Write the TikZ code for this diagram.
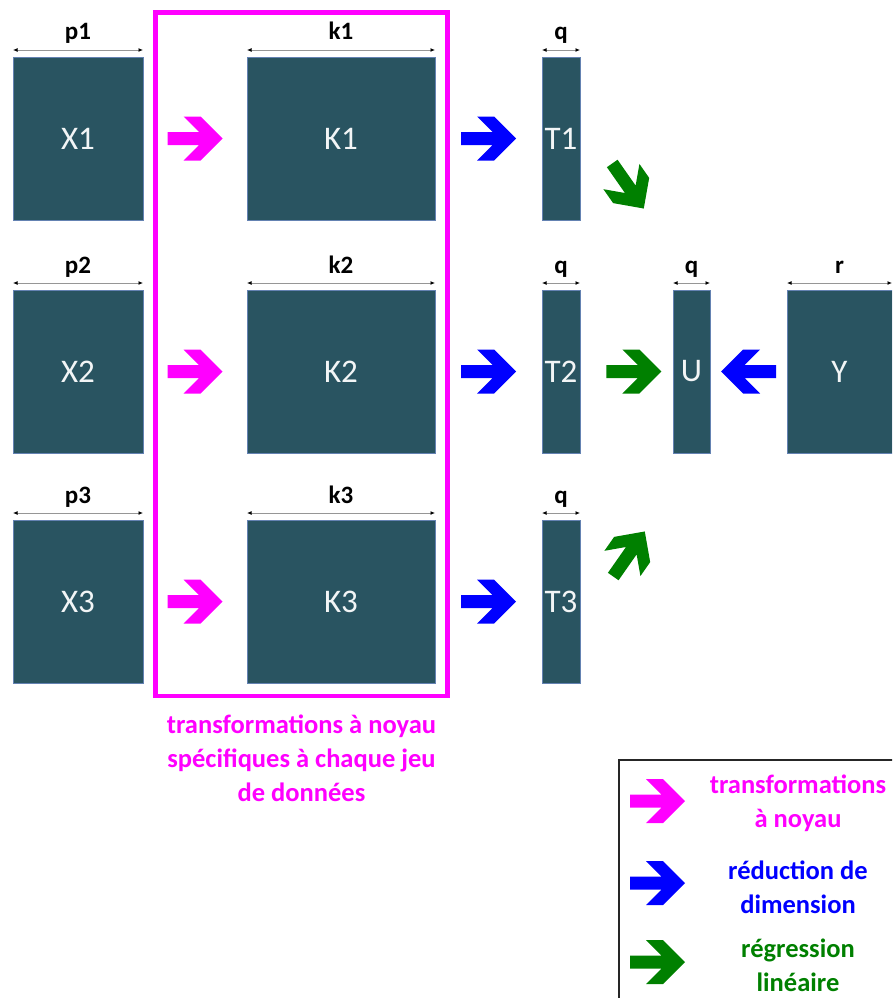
\documentclass[tikz,border=0pt]{standalone}
\usepackage{fontspec}
\setmainfont{Carlito}
\usepackage{xcolor}
\usetikzlibrary{arrows.meta,positioning,fit,calc}
\definecolor{matFill}{RGB}{41,84,97}
\definecolor{matEdge}{RGB}{100,130,178}
\definecolor{kerMag}{RGB}{255,0,255}
\definecolor{redBlue}{RGB}{0,0,255}
\definecolor{regGreen}{RGB}{0,128,0}
\definecolor{dimGray}{RGB}{150,150,150}
\tikzset{
  blockarr/.pic={
    \fill[pic actions] (-27.5,6.5) -- (4,6.5) -- (-11.5,22) -- (5.5,22) -- (27.5,0)
      -- (5.5,-22) -- (-11.5,-22) -- (4,-6.5) -- (-27.5,-6.5) -- cycle;
  }
}

\begin{document}
\begin{tikzpicture}[
  x=1pt, y=-1pt,
  font=\fontsize{25}{30}\selectfont\bfseries,
  mat/.style={draw=matEdge, line width=0.8pt, fill=matFill, text=white!94!matFill,
              font=\fontsize{33}{40}\selectfont\mdseries, minimum height=163pt,
              inner sep=0pt, outer sep=0pt},
  xmat/.style={mat, minimum width=130pt},
  kmat/.style={mat, minimum width=188pt},
  tmat/.style={mat, minimum width=38pt},
  dim/.style={draw=dimGray, line width=0.9pt,
              {Latex[length=4.5pt,width=4pt,black]}-{Latex[length=4.5pt,width=4pt,black]}},
  kframe/.style={draw=kerMag, line width=4.5pt, inner sep=0pt},
  legframe/.style={draw=black!85, line width=1.8pt, inner sep=0pt},
  captxt/.style={align=center, inner sep=0pt, font=\fontsize{26.5}{34}\selectfont\bfseries}
]
\clip (0,0) rectangle (892,998);

% first row
\node[xmat] (X1) at (78,138.5) {X1};
\node[kmat, right=104pt of X1] (K1) {K1};
\node[tmat, right=107pt of K1] (T1) {T1};
% second row
\node[xmat, below=70pt of X1] (X2) {X2};
\node[kmat, below=70pt of K1] (K2) {K2};
\node[tmat, below=70pt of T1] (T2) {T2};
\node[mat, minimum width=37pt, right=93pt of T2] (U) {U};
\node[mat, minimum width=105pt, right=77pt of U] (Y) {Y};
% third row
\node[xmat, below=67pt of X2] (X3) {X3};
\node[kmat, below=67pt of K2] (K3) {K3};
\node[tmat, below=67pt of T2] (T3) {T3};

% sizes
\foreach \n/\t in {X1/p1, X2/p2, X3/p3, K1/k1, K2/k2, K3/k3, T1/q, T2/q, T3/q, U/q, Y/r}
  \draw[dim] ([yshift=7pt]\n.north west) -- ([yshift=7pt]\n.north east)
    node[midway, anchor=base, yshift=10pt] {\t};

% kernels
\node[kframe, fit={(155.5,12.5) (447.5,696)}] (kbox) {};
\node[captxt, text=kerMag, below=16pt of kbox] (kcap)
  {transformations à noyau\\spécifiques à chaque jeu\\de données};

\foreach \a/\b in {X1/K1, X2/K2, X3/K3}
  \pic[fill=kerMag] at ($(\a.east)!0.5!(\b.west)$) {blockarr};
\foreach \a/\b in {K1/T1, K2/T2, K3/T3}
  \pic[fill=redBlue] at ($(\a.east)!0.5!(\b.west)$) {blockarr};
\pic[fill=redBlue, rotate=180] at ($(U.east)!0.5!(Y.west)$) {blockarr};
\pic[fill=regGreen] at ($(T2.east)!0.58!(U.west)$) {blockarr};
\pic[fill=regGreen, rotate=-55] at (628,186) {blockarr};
\pic[fill=regGreen, rotate=55] at (629,554) {blockarr};

% legend
\node[legframe, fit={(619,760) (910,1010)}] (legend) {};
\pic[fill=kerMag] at (657.5,801) {blockarr};
\pic[fill=redBlue] at (657.5,883) {blockarr};
\pic[fill=regGreen] at (657.5,962) {blockarr};
\node[captxt, text=kerMag] (leg1) at (798,803) {transformations\\à noyau};
\node[captxt, text=redBlue] (leg2) at (798,887) {réduction de\\dimension};
\node[captxt, text=regGreen] (leg3) at (798,965) {régression\\linéaire};

\end{tikzpicture}
\end{document}
